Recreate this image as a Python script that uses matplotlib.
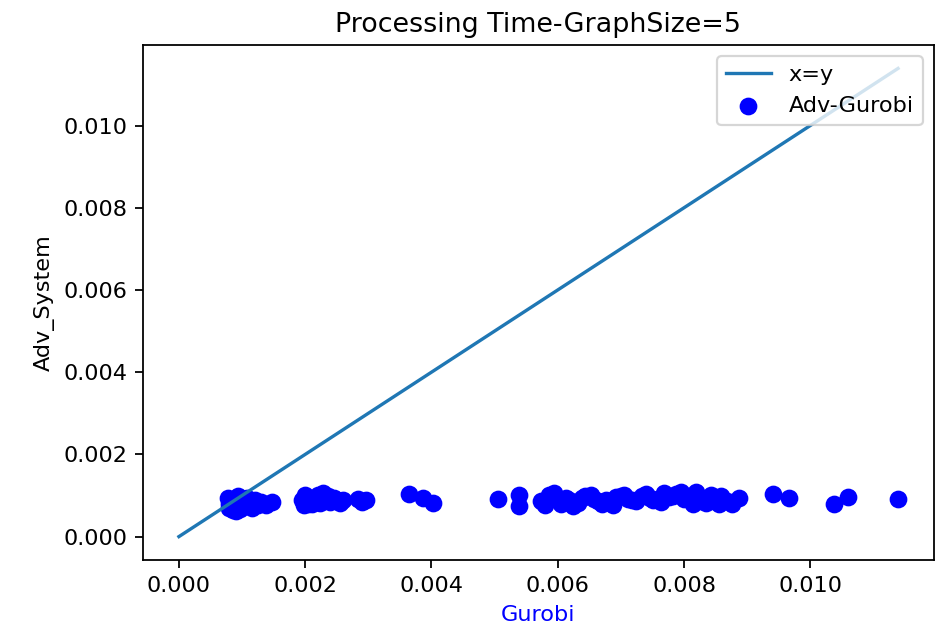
import matplotlib

matplotlib.use("Agg")
import matplotlib.pyplot as plt
import numpy as np

# Processing time (seconds) per instance: Gurobi vs Adv_System, graph size 5
gurobi = [
    # cluster near 0.001
    0.00078, 0.00080, 0.00082, 0.00085, 0.00088, 0.00090, 0.00093, 0.00096,
    0.00100, 0.00104, 0.00108, 0.00112, 0.00116, 0.00120, 0.00125, 0.00080,
    0.00090, 0.00110, 0.00130, 0.00138, 0.00147,
    # cluster near 0.002
    0.00195, 0.00198, 0.00200, 0.00203, 0.00206, 0.00210, 0.00213, 0.00216,
    0.00220, 0.00224, 0.00228, 0.00232, 0.00236, 0.00240, 0.00245, 0.00250,
    0.00255, 0.00260, 0.00283, 0.00290, 0.00297, 0.00205, 0.00218, 0.00230,
    # sparse 0.0036 - 0.004
    0.00364, 0.00386, 0.00402,
    # wide band 0.005 - 0.009
    0.00505, 0.00538, 0.00538,
    0.00573, 0.00586, 0.00594, 0.00605, 0.00613, 0.00624, 0.00632, 0.00643,
    0.00653, 0.00664, 0.00676, 0.00687, 0.00700, 0.00711, 0.00724, 0.00733,
    0.00740, 0.00751, 0.00759, 0.00768, 0.00776, 0.00787, 0.00795, 0.00805,
    0.00811, 0.00819, 0.00827, 0.00835, 0.00843, 0.00851, 0.00859, 0.00868,
    0.00876, 0.00580, 0.00855,
    0.00600, 0.00618, 0.00638, 0.00658, 0.00670, 0.00693, 0.00705, 0.00718,
    0.00746, 0.00763, 0.00782, 0.00800, 0.00815, 0.00831, 0.00847,
    # tail
    0.00887, 0.00941, 0.00966, 0.01038, 0.01060, 0.01139,
]
adv_system = [
    0.00095, 0.00070, 0.00085, 0.00065, 0.00092, 0.00078, 0.00098, 0.00068,
    0.00088, 0.00075, 0.00094, 0.00080, 0.00070, 0.00090, 0.00078, 0.00080,
    0.00062, 0.00085, 0.00085, 0.00078, 0.00084,
    0.00090, 0.00078, 0.00100, 0.00085, 0.00095, 0.00080, 0.00092, 0.00088,
    0.00100, 0.00082, 0.00106, 0.00090, 0.00098, 0.00085, 0.00095, 0.00088,
    0.00082, 0.00090, 0.00092, 0.00085, 0.00088, 0.00080, 0.00095, 0.00100,
    0.00103, 0.00094, 0.00082,
    0.00091, 0.00100, 0.00074,
    0.00086, 0.00101, 0.00106, 0.00079, 0.00094, 0.00074, 0.00082, 0.00098,
    0.00101, 0.00086, 0.00089, 0.00077, 0.00098, 0.00091, 0.00086, 0.00098,
    0.00103, 0.00089, 0.00091, 0.00106, 0.00096, 0.00103, 0.00108, 0.00094,
    0.00098, 0.00108, 0.00086, 0.00082, 0.00101, 0.00094, 0.00098, 0.00086,
    0.00079, 0.00076, 0.00080,
    0.00092, 0.00088, 0.00094, 0.00092, 0.00080, 0.00096, 0.00101, 0.00088,
    0.00094, 0.00084, 0.00099, 0.00092, 0.00080, 0.00090, 0.00086,
    0.00094, 0.00103, 0.00094, 0.00079, 0.00096, 0.00091,
]

DPI = 161
fig = plt.figure(figsize=(940 / DPI, 634 / DPI), dpi=DPI)
ax = fig.add_axes([0.1521, 0.1167, 0.9936 - 0.1521, 0.929 - 0.1167])

lim = max(gurobi)
ax.plot([0, lim], [0, lim], label="x=y")
ax.scatter(gurobi, adv_system, s=48, color="blue", label="Adv-Gurobi")

ax.set_title("Processing Time-GraphSize=5")
ax.set_xlabel("Gurobi", color="blue")
ax.set_ylabel("Adv_System")
ax.legend(loc="upper right")

fig.savefig("out.png", dpi=DPI)
